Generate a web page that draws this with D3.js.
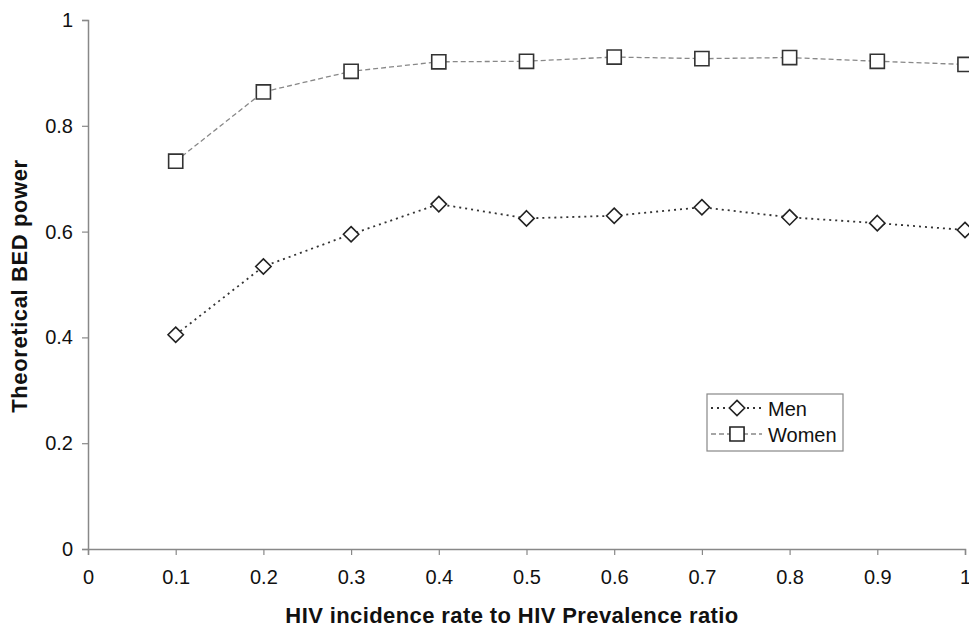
<!DOCTYPE html>
<html><head><meta charset="utf-8">
<script src="https://cdn.jsdelivr.net/npm/d3@7"></script>
<style>body{margin:0;background:#fff}svg{display:block}text{font-family:"Liberation Sans",Arial,sans-serif}</style>
</head><body><svg id="c" width="969" height="627"></svg>
<script>
const ratios = [0.1,0.2,0.3,0.4,0.5,0.6,0.7,0.8,0.9,1.0];
const men =   [0.405,0.534,0.595,0.652,0.625,0.630,0.646,0.627,0.616,0.603];
const women = [0.733,0.864,0.903,0.921,0.922,0.930,0.927,0.929,0.922,0.916];
const xTicks = [0,0.1,0.2,0.3,0.4,0.5,0.6,0.7,0.8,0.9,1];
const yTicks = [0,0.2,0.4,0.6,0.8,1];
const xTitle = "HIV incidence rate to HIV Prevalence ratio";
const yTitle = "Theoretical BED power";
const legendLabels = ["Men","Women"];

const svg = d3.select("#c");
const x = d3.scaleLinear().domain([0,1]).range([88,965]);
const y = d3.scaleLinear().domain([0,1]).range([549,20]);
const axisColor = "#888";
const fmt = d => d===0||d===1 ? String(d) : d.toFixed(1);

const gx = svg.append("g").attr("transform","translate(0,549)")
  .call(d3.axisBottom(x).tickValues(xTicks).tickFormat(fmt).tickSize(6).tickPadding(15));
const gy = svg.append("g").attr("transform","translate(88,0)")
  .call(d3.axisLeft(y).tickValues(yTicks).tickFormat(fmt).tickSize(6).tickPadding(9));
[gx,gy].forEach(g=>{
  g.select(".domain").attr("stroke",axisColor).attr("stroke-width",1.5);
  g.selectAll(".tick line").attr("stroke",axisColor).attr("stroke-width",1.2);
  g.selectAll(".tick text").attr("fill","#111").style("font-size","20px").style("font-family","Liberation Sans, Arial, sans-serif");
});

const line = d3.line().x((d,i)=>x(ratios[i])).y(d=>y(d));
svg.append("path").datum(women).attr("d",line).attr("fill","none")
  .attr("stroke","#888").attr("stroke-width",1.3).attr("stroke-dasharray","5,3");
svg.append("path").datum(men).attr("d",line).attr("fill","none")
  .attr("stroke","#333").attr("stroke-width",1.8).attr("stroke-dasharray","2,4");

const sq = d3.symbol().type(d3.symbolSquare).size(200);
const dm = d3.symbol().type(d3.symbolDiamond2).size(150);
svg.selectAll(".w").data(women).join("path").attr("class","w")
  .attr("transform",(d,i)=>`translate(${x(ratios[i])},${y(d)})`).attr("d",sq)
  .attr("fill","#fff").attr("stroke","#333").attr("stroke-width",1.6);
svg.selectAll(".m").data(men).join("path").attr("class","m")
  .attr("transform",(d,i)=>`translate(${x(ratios[i])},${y(d)})`).attr("d",dm)
  .attr("fill","#fff").attr("stroke","#222").attr("stroke-width",1.6);

// legend
const lg = svg.append("g");
lg.append("rect").attr("x",707).attr("y",394).attr("width",136).attr("height",57)
  .attr("fill","#fff").attr("stroke","#888").attr("stroke-width",1.2);
const ly = [408, 434];
const styles = [{stroke:"#333",dash:"2,4",w:1.8,sym:dm},{stroke:"#888",dash:"5,3",w:1.3,sym:sq}];
legendLabels.forEach((lab,i)=>{
  lg.append("line").attr("x1",711).attr("x2",762).attr("y1",ly[i]).attr("y2",ly[i])
    .attr("stroke",styles[i].stroke).attr("stroke-width",styles[i].w).attr("stroke-dasharray",styles[i].dash);
  lg.append("path").attr("d",styles[i].sym).attr("transform",`translate(737,${ly[i]})`)
    .attr("fill","#fff").attr("stroke","#222").attr("stroke-width",1.6);
  lg.append("text").attr("x",768).attr("y",ly[i]+8).text(lab).style("font-size","20px").attr("fill","#111");
});

svg.append("text").attr("x",512).attr("y",623).attr("text-anchor","middle")
  .style("font-size","22px").style("font-weight","bold").style("letter-spacing","0.4px").attr("fill","#111").text(xTitle);
svg.append("text").attr("transform",`translate(27,286) rotate(-90)`).attr("text-anchor","middle")
  .style("font-size","22px").style("font-weight","bold").style("letter-spacing","0.6px").attr("fill","#111").text(yTitle);
</script></body></html>
